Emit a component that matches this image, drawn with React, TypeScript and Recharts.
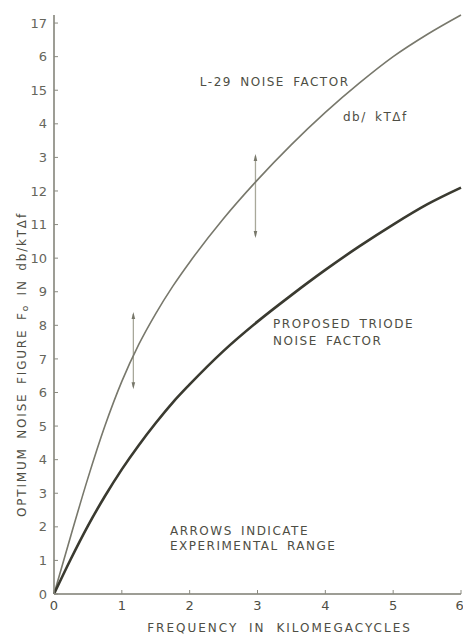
import React from 'react';
import {
  LineChart,
  Line,
  XAxis,
  YAxis,
  ReferenceLine,
  ReferenceDot,
} from 'recharts';

// frequency in kilomegacycles
const freq = [0, 0.25, 0.5, 0.75, 1, 1.25, 1.5, 1.75, 2, 2.5, 3, 3.5, 4, 4.5, 5, 5.5, 6];
// L-29 noise factor (db / kT∆f)
const l29 = [0, 1.75, 3.45, 5.0, 6.33, 7.43, 8.35, 9.16, 9.88, 11.18, 12.33, 13.38, 14.34, 15.21, 16.0, 16.66, 17.24];
// proposed triode noise factor
const triode = [0, 1.05, 2.03, 2.91, 3.71, 4.43, 5.09, 5.7, 6.24, 7.24, 8.11, 8.9, 9.65, 10.35, 11.0, 11.6, 12.1];

// experimental range arrows
const arrowX = [1.17, 2.97];
const arrowLow = [6.1, 10.6];
const arrowHigh = [8.4, 13.1];

const xTicks = [0, 1, 2, 3, 4, 5, 6];
const yTicks = [0, 1, 2, 3, 4, 5, 6, 7, 8, 9, 10, 11, 12, 13, 14, 15, 16, 17];
// labels as printed on the original scan
const yTickLabels = ['0', '1', '2', '3', '4', '5', '6', '7', '8', '9', '10', '11', '12', '3', '4', '15', '6', '17'];

const notes = [
  { x: 2.15, y: 15.24, text: 'L-29 NOISE FACTOR' },
  { x: 4.26, y: 14.2, text: 'db/ kT\u0394f' },
  { x: 3.23, y: 8.05, text: 'PROPOSED TRIODE' },
  { x: 3.23, y: 7.52, text: 'NOISE FACTOR' },
  { x: 1.71, y: 1.88, text: 'ARROWS INDICATE' },
  { x: 1.71, y: 1.44, text: 'EXPERIMENTAL RANGE' },
];

const data = freq.map((f, i) => ({ x: f, upper: l29[i], lower: triode[i] }));

const INK = '#4e4e44';
const FONT = '"DejaVu Sans", sans-serif';

const ArrowShape = (props: any) => {
  const { x1, y1, x2, y2 } = props;
  const top = Math.min(y1, y2);
  const bot = Math.max(y1, y2);
  const x = x1;
  return (
    <g>
      <line x1={x} y1={top + 2} x2={x2} y2={bot - 2} stroke="#a8a89a" strokeWidth={1.3} />
      <polygon points={`${x},${top} ${x - 1.8},${top + 7} ${x + 1.8},${top + 7}`} fill="#77776a" />
      <polygon points={`${x},${bot} ${x - 1.8},${bot - 7} ${x + 1.8},${bot - 7}`} fill="#77776a" />
    </g>
  );
};

const NoteShape = (text: string) => (props: any) => (
  <text
    x={props.cx}
    y={props.cy}
    dy={4}
    textAnchor="start"
    fontFamily={FONT}
    fontSize={12}
    letterSpacing={1.5}
    wordSpacing={3}
    fill={INK}
  >
    {text}
  </text>
);

const YLabel = (props: any) => {
  const vb = props.viewBox;
  const cx = vb.x + 22;
  const cy = vb.y + vb.height / 2 + 60;
  return (
    <text
      x={cx}
      y={cy}
      transform={`rotate(-90 ${cx} ${cy})`}
      textAnchor="middle"
      dominantBaseline="middle"
      fontFamily={FONT}
      fontSize={12}
      letterSpacing={1.8}
      wordSpacing={3}
      fill={INK}
    >
      OPTIMUM NOISE FIGURE F<tspan fontSize={9} dy={3}>o</tspan>
      <tspan dy={-3}> IN db/kT{'\u0394'}f</tspan>
    </text>
  );
};

const XLabel = (props: any) => {
  const vb = props.viewBox;
  return (
    <text
      x={vb.x + vb.width / 2 + 22}
      y={vb.y + 38}
      textAnchor="middle"
      fontFamily={FONT}
      fontSize={12}
      letterSpacing={2}
      wordSpacing={5}
      fill={INK}
    >
      FREQUENCY IN KILOMEGACYCLES
    </text>
  );
};

export default function App() {
  return (
    <div style={{ position: 'absolute', left: 0, top: 0, background: '#fff' }}>
      <LineChart
        width={463}
        height={637}
        data={data}
        margin={{ top: 15, right: 2, bottom: 23, left: 0 }}
      >
        <XAxis
          dataKey="x"
          type="number"
          domain={[0, 6]}
          ticks={xTicks}
          axisLine={{ stroke: '#7c7c72', strokeWidth: 1.5 }}
          tickLine={{ stroke: '#8a8a80' }}
          tickSize={-4}
          tickMargin={11}
          tick={{ fill: INK, fontSize: 13, fontFamily: FONT }}
          height={20}
          label={{ content: XLabel }}
        />
        <YAxis
          type="number"
          domain={[0, 17]}
          ticks={yTicks}
          interval={0}
          width={54}
          axisLine={{ stroke: '#7c7c72', strokeWidth: 1.5 }}
          tickLine={{ stroke: '#8a8a80' }}
          tickSize={-4}
          tickMargin={11}
          tickFormatter={(v: number) => yTickLabels[v]}
          tick={{ fill: '#66665c', fontSize: 13, fontFamily: FONT }}
          label={{ content: YLabel }}
        />
        {arrowX.map((ax, i) => (
          <ReferenceLine
            key={`arrow-${i}`}
            segment={[
              { x: ax, y: arrowLow[i] },
              { x: ax, y: arrowHigh[i] },
            ]}
            shape={ArrowShape}
          />
        ))}
        <Line
          type="monotone"
          dataKey="upper"
          stroke="#78786c"
          strokeWidth={1.6}
          dot={false}
          isAnimationActive={false}
        />
        <Line
          type="monotone"
          dataKey="lower"
          stroke="#3a3a30"
          strokeWidth={2.6}
          dot={false}
          isAnimationActive={false}
        />
        {notes.map((n, i) => (
          <ReferenceDot
            key={`note-${i}`}
            x={n.x}
            y={n.y}
            r={0}
            shape={NoteShape(n.text)}
          />
        ))}
      </LineChart>
    </div>
  );
}
